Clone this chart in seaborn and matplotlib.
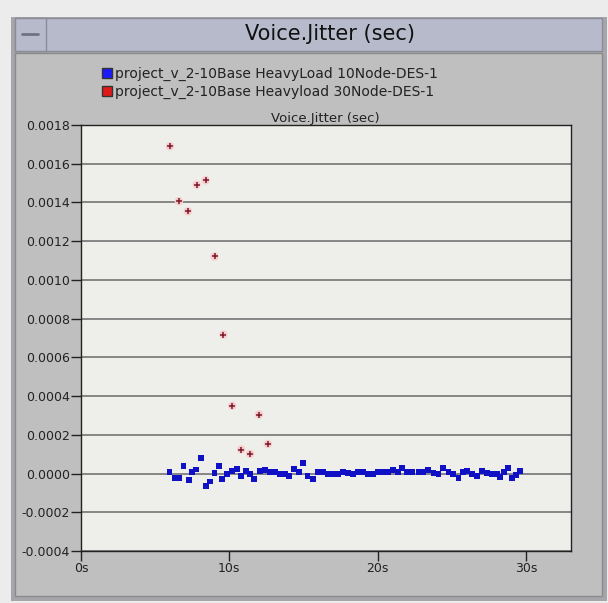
import matplotlib
matplotlib.use("Agg")
import matplotlib.pyplot as plt
import numpy as np
import pandas as pd
import seaborn as sns
from matplotlib.lines import Line2D
from matplotlib.patches import Rectangle

sns.set_theme(style="white")
plt.rcParams["font.family"] = ["DejaVu Sans"]

# values
series_names = [
    "project_v_2-10Base HeavyLoad 10Node-DES-1",
    "project_v_2-10Base Heavyload 30Node-DES-1",
]
series_colors = ["#1010c4", "#e01818"]

# 10 node run (blue squares), time in seconds, jitter in seconds
t_10node = [
    5.97, 6.31, 6.64, 6.91, 7.27, 7.47, 7.77, 8.08, 8.44, 8.71,
    9.00, 9.29, 9.52, 9.86, 10.20, 10.51, 10.81, 11.10, 11.37, 11.66,
    12.05, 12.39, 12.72, 13.06, 13.40, 13.73, 14.05, 14.37, 14.68, 14.97,
    15.27, 15.65, 15.99, 16.32, 16.66, 17.00, 17.34, 17.68, 18.01, 18.35,
    18.69, 19.03, 19.36, 19.70, 20.04, 20.38, 20.72, 21.05, 21.35, 21.62,
    21.96, 22.30, 22.75, 23.08, 23.42, 23.76, 24.10, 24.43, 24.77, 25.07,
    25.45, 25.78, 26.05, 26.35, 26.69, 27.03, 27.36, 27.70, 28.04, 28.22,
    28.49, 28.78, 29.05, 29.34, 29.61,
]
jitter_10node = [
    1.0e-5, -2.1e-5, -2.1e-5, 3.8e-5, -3.1e-5, 1.0e-5, 2.1e-5, 7.9e-5, -6.5e-5, -4.1e-5,
    3e-6, 3.8e-5, -2.8e-5, -3e-6, 1.4e-5, 2.4e-5, -1.4e-5, 1.4e-5, -3e-6, -2.8e-5,
    1.4e-5, 1.7e-5, 7e-6, 7e-6, 0.0, -3e-6, -1.4e-5, 2.4e-5, 7e-6, 5.5e-5,
    -1.4e-5, -2.8e-5, 1.0e-5, 7e-6, 0.0, -3e-6, -3e-6, 1.0e-5, 3e-6, 0.0,
    7e-6, 1.0e-5, -3e-6, 0.0, 7e-6, 7e-6, 1.0e-5, 1.7e-5, 1.0e-5, 2.8e-5,
    7e-6, 7e-6, 7e-6, 1.0e-5, 1.7e-5, 3e-6, -3e-6, 2.8e-5, 7e-6, 0.0,
    -2.1e-5, 1.0e-5, 1.4e-5, -3e-6, -1.4e-5, 1.4e-5, 3e-6, 0.0, -3e-6, -1.7e-5,
    7e-6, 3.1e-5, -2.1e-5, -7e-6, 1.4e-5,
]

# 30 node run (red crosses)
t_30node = [6.0, 6.6, 7.2, 7.8, 8.4, 9.0, 9.6, 10.2, 10.8, 11.4, 12.0, 12.6]
jitter_30node = [
    0.00169, 0.001406, 0.001354, 0.001492, 0.001514, 0.001121,
    0.000718, 0.00035, 0.000124, 0.000102, 0.000305, 0.000153,
]

y_ticks = [-0.0004, -0.0002, 0.0, 0.0002, 0.0004, 0.0006, 0.0008,
           0.0010, 0.0012, 0.0014, 0.0016, 0.0018]
x_ticks = [0, 10, 20, 30]
x_tick_labels = ["0s", "10s", "20s", "30s"]

df10 = pd.DataFrame({"time": t_10node, "jitter": jitter_10node})
df30 = pd.DataFrame({"time": t_30node, "jitter": jitter_30node})

fig = plt.figure(figsize=(6.08, 6.03), dpi=100)
fig.patch.set_facecolor("#ececec")

# window frame (drawn below the axes)
frame = [
    Rectangle((0.018, 0.004), 0.98, 0.968, facecolor="#a6a6aa", edgecolor="none"),
    Rectangle((0.025, 0.012), 0.965, 0.90, facecolor="#bfbfbf", edgecolor="#8a8a8a", lw=1),
    Rectangle((0.025, 0.916), 0.965, 0.054, facecolor="#b7bacb", edgecolor="#8a8c98", lw=1),
    Rectangle((0.025, 0.916), 0.05, 0.054, facecolor="#b7bacb", edgecolor="#8a8c98", lw=1),
]
for p in frame:
    p.set_transform(fig.transFigure)
    p.set_zorder(-5)
    fig.patches.append(p)
dash = Line2D([0.037, 0.063], [0.943, 0.943], transform=fig.transFigure,
              color="#70737f", lw=2, zorder=-4)
fig.lines.append(dash)
fig.text(0.543, 0.943, "Voice.Jitter (sec)", ha="center", va="center",
         fontsize=15, color="#111111")

ax = fig.add_axes([0.1332, 0.0862, 0.8052, 0.7065])
ax.set_zorder(2)
ax.set_facecolor("#eeeeeb")

sns.scatterplot(data=df10, x="time", y="jitter", ax=ax, marker="s", s=18,
                color=series_colors[0], edgecolor="none", zorder=3)
sns.scatterplot(data=df30, x="time", y="jitter", ax=ax, marker="o", s=36,
                color="#f6cccc", edgecolor="none", zorder=3)
sns.scatterplot(data=df30, x="time", y="jitter", ax=ax, marker="+", s=18,
                color="#7a1a2a", linewidth=1.1, zorder=4)

ax.set_xlim(0, 33)
ax.set_ylim(-0.0004, 0.0018)
ax.set_yticks(y_ticks)
ax.set_yticklabels([f"{v:.4f}" for v in y_ticks])
ax.set_xticks(x_ticks)
ax.set_xticklabels(x_tick_labels)
ax.set_xlabel("")
ax.set_ylabel("")
for y in y_ticks:
    ax.axhline(y, color="#6a6a6a", lw=1.1, zorder=1)
ax.tick_params(axis="both", direction="out", length=7, width=1, color="#222222",
               labelsize=9, labelcolor="#222222", pad=1)
ax.tick_params(axis="y", left=True)
ax.tick_params(axis="x", bottom=True, pad=1)
for side, sp in ax.spines.items():
    sp.set_color("#222222")
    sp.set_linewidth(1)
ax.set_title("Voice.Jitter (sec)", fontsize=9.5, color="#222222", pad=2)

handles = [
    Line2D([], [], marker="s", linestyle="none", markersize=7,
           markerfacecolor="#1a1aff", markeredgecolor="#333333"),
    Line2D([], [], marker="s", linestyle="none", markersize=7,
           markerfacecolor=series_colors[1], markeredgecolor="#333333"),
]
fig.legend(handles, series_names, loc="upper left", bbox_to_anchor=(0.158, 0.898),
           frameon=False, fontsize=10, handletextpad=0.15, labelspacing=0.25,
           borderaxespad=0, handlelength=0.8, labelcolor="#222222")

fig.savefig("out.png", dpi=100, facecolor=fig.get_facecolor())
